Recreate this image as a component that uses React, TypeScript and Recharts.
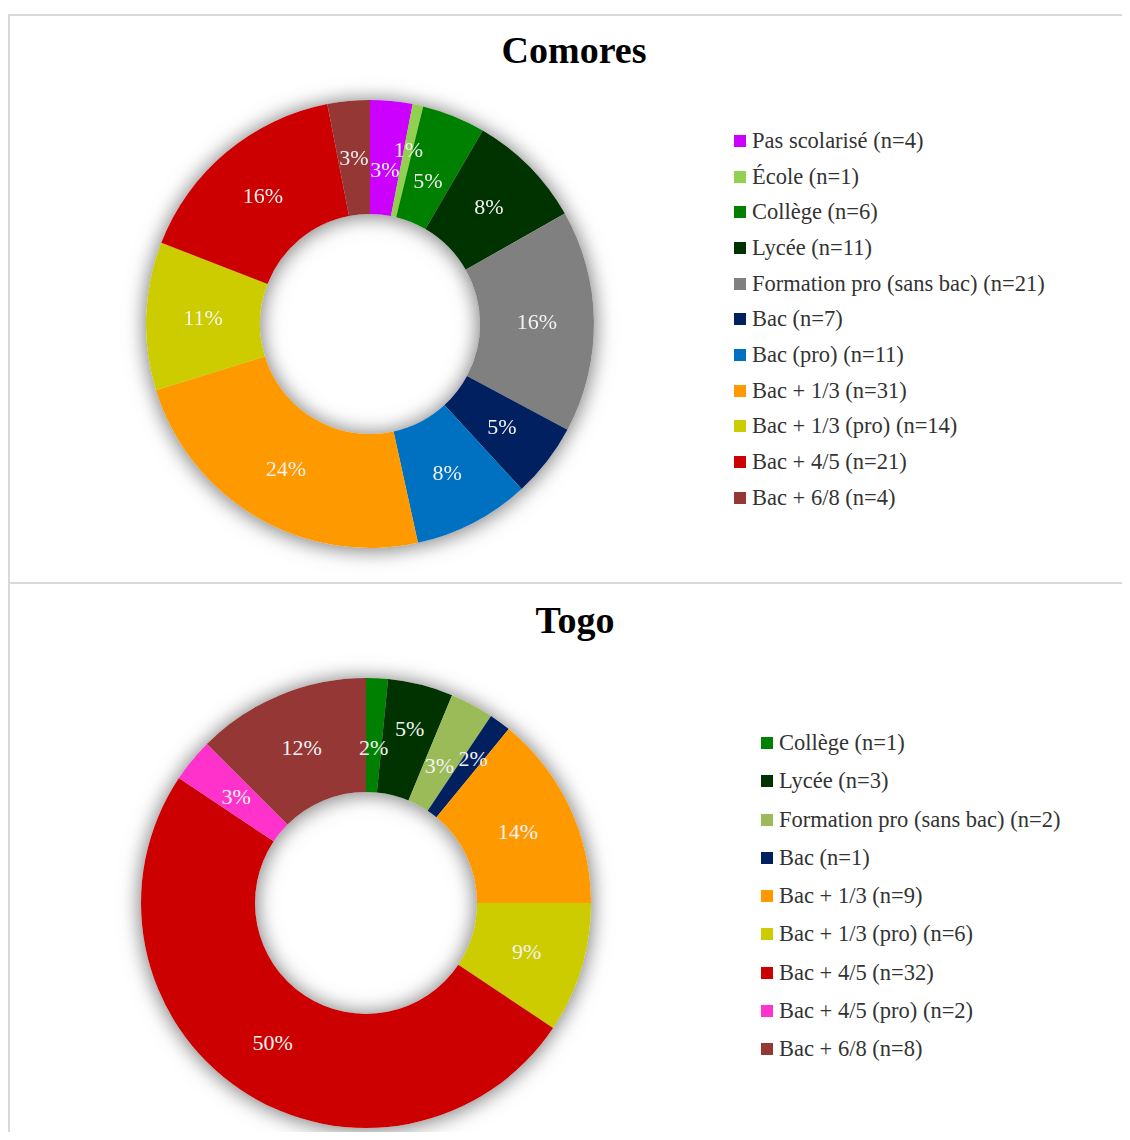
import { PieChart, Pie, Cell } from "recharts";

// Comores
const comoresLabels = [
  "Pas scolarisé (n=4)",
  "École (n=1)",
  "Collège (n=6)",
  "Lycée (n=11)",
  "Formation pro (sans bac) (n=21)",
  "Bac (n=7)",
  "Bac (pro) (n=11)",
  "Bac + 1/3 (n=31)",
  "Bac + 1/3 (pro) (n=14)",
  "Bac + 4/5 (n=21)",
  "Bac + 6/8 (n=4)",
];
const comoresCounts = [4, 1, 6, 11, 21, 7, 11, 31, 14, 21, 4];
const comoresPct = ["3%", "1%", "5%", "8%", "16%", "5%", "8%", "24%", "11%", "16%", "3%"];
const comoresColors = [
  "#cc00ff",
  "#92d050",
  "#008000",
  "#003300",
  "#808080",
  "#002060",
  "#0070c0",
  "#ff9900",
  "#cccc00",
  "#cc0000",
  "#953735",
];

// Togo
const togoLabels = [
  "Collège (n=1)",
  "Lycée (n=3)",
  "Formation pro (sans bac) (n=2)",
  "Bac (n=1)",
  "Bac + 1/3 (n=9)",
  "Bac + 1/3 (pro) (n=6)",
  "Bac + 4/5 (n=32)",
  "Bac + 4/5 (pro) (n=2)",
  "Bac + 6/8 (n=8)",
];
const togoCounts = [1, 3, 2, 1, 9, 6, 32, 2, 8];
const togoPct = ["2%", "5%", "3%", "2%", "14%", "9%", "50%", "3%", "12%"];
const togoColors = [
  "#008000",
  "#003300",
  "#9bbb59",
  "#002060",
  "#ff9900",
  "#cccc00",
  "#cc0000",
  "#ff33cc",
  "#953735",
];

const FONT = '"Liberation Serif", "Times New Roman", serif';
const RAD = Math.PI / 180;

// small neighbouring slices get their labels staggered in/out, like Excel does
function staggerOf(counts: number[]) {
  const total = counts.reduce((a, b) => a + b, 0);
  const small = counts.map((c) => c / total < 0.06);
  const out = counts.map(() => 0);
  let i = 0;
  while (i < counts.length) {
    if (!small[i]) {
      i++;
      continue;
    }
    let j = i;
    while (j < counts.length && small[j]) j++;
    if (j - i > 1) {
      for (let k = i; k < j; k++) out[k] = (k - i) % 2 === 0 ? -1 : 1;
    }
    i = j;
  }
  return out;
}

function makeLabel(stagger: number[]) {
  return (props: any) => {
    const { cx, cy, midAngle, innerRadius, outerRadius, payload, index } = props;
    const r = (innerRadius + outerRadius) / 2 + stagger[index] * 12;
    const x = cx + r * Math.cos(-midAngle * RAD);
    const y = cy + r * Math.sin(-midAngle * RAD);
    return (
      <text
        x={x}
        y={y}
        fill="#f2f2f2"
        fontFamily={FONT}
        fontSize={22}
        textAnchor="middle"
        dominantBaseline="central"
      >
        {payload.pct}
      </text>
    );
  };
}

function Donut({
  title,
  labels,
  counts,
  pcts,
  colors,
  height,
  cx,
  cy,
  outer,
  inner,
  titleTop,
  titleX,
  legendLeft,
  legendTop,
  rowH,
}: any) {
  const data = labels.map((name: string, i: number) => ({
    name,
    value: counts[i],
    pct: pcts[i],
  }));
  const stagger = staggerOf(counts);
  return (
    <div
      style={{
        position: "relative",
        width: 1120,
        height,
        borderTop: "2px solid #d9d9d9",
        borderLeft: "2px solid #d9d9d9",
      }}
    >
      <div
        style={{
          position: "absolute",
          left: titleX - 150,
          width: 300,
          top: titleTop,
          textAlign: "center",
          fontFamily: FONT,
          fontWeight: "bold",
          fontSize: 38,
          lineHeight: "38px",
          color: "#000",
        }}
      >
        {title}
      </div>
      <PieChart width={1120} height={height} margin={{ top: 0, right: 0, bottom: 0, left: 0 }}>
        <Pie
          data={data}
          dataKey="value"
          nameKey="name"
          cx={cx}
          cy={cy}
          innerRadius={inner}
          outerRadius={outer}
          startAngle={90}
          endAngle={-270}
          fill="#ffffff"
          stroke="none"
          className="donut-shadow"
          isAnimationActive={false}
        />
        <Pie
          data={data}
          dataKey="value"
          nameKey="name"
          cx={cx}
          cy={cy}
          innerRadius={inner}
          outerRadius={outer}
          startAngle={90}
          endAngle={-270}
          stroke="none"
          label={makeLabel(stagger)}
          labelLine={false}
          isAnimationActive={false}
        >
          {data.map((d: any, i: number) => (
            <Cell key={d.name} fill={colors[i]} />
          ))}
        </Pie>
      </PieChart>
      <div
        style={{
          position: "absolute",
          left: legendLeft,
          top: legendTop,
          fontFamily: FONT,
          fontSize: 22.5,
          color: "#333",
        }}
      >
        {data.map((d: any, i: number) => (
          <div
            key={d.name}
            style={{ height: rowH, display: "flex", alignItems: "center", whiteSpace: "nowrap" }}
          >
            <span
              style={{
                width: 12,
                height: 12,
                background: colors[i],
                marginRight: 6,
                display: "inline-block",
                flex: "none",
              }}
            />
            {d.name}
          </div>
        ))}
      </div>
    </div>
  );
}

export default function App() {
  return (
    <div style={{ paddingTop: 6 }}>
      <style>{`
        body { margin: 8px; overflow: hidden; }
        .donut-shadow { filter: drop-shadow(0px 1px 10px rgba(0,0,0,0.3)); }
      `}</style>
      <Donut
        title="Comores"
        labels={comoresLabels}
        counts={comoresCounts}
        pcts={comoresPct}
        colors={comoresColors}
        height={566}
        cx={360}
        cy={308}
        outer={224}
        inner={110}
        titleTop={15}
        titleX={564}
        legendLeft={724}
        legendTop={107}
        rowH={35.7}
      />
      <Donut
        title="Togo"
        labels={togoLabels}
        counts={togoCounts}
        pcts={togoPct}
        colors={togoColors}
        height={548}
        cx={356}
        cy={319}
        outer={225}
        inner={111}
        titleTop={17}
        titleX={565}
        legendLeft={751}
        legendTop={140}
        rowH={38.25}
      />
    </div>
  );
}
